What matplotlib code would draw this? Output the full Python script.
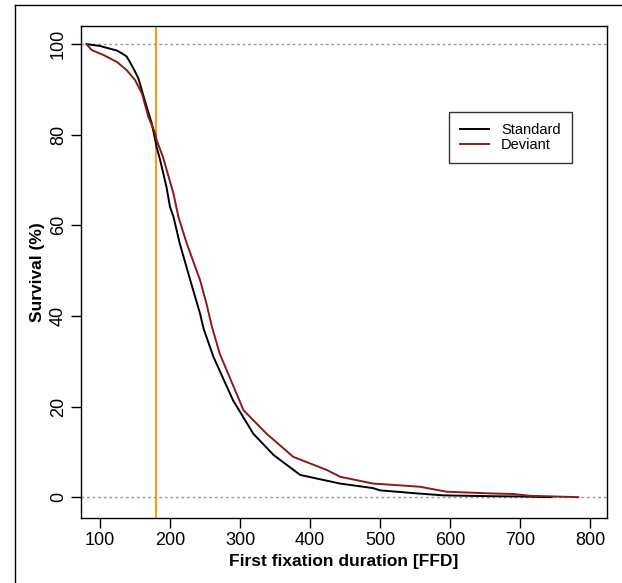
import matplotlib.pyplot as plt
from matplotlib.lines import Line2D

# Curvas de sobrevivência (duração em ms, sobrevivência em %)
std_x = [81, 100, 114, 124, 131, 138, 143, 150, 155, 164, 174, 181, 186, 195, 200, 205, 214, 229,
         243, 248, 262, 290, 319, 348, 386, 443, 490, 500, 524, 547, 590, 662, 700, 745]
std_y = [100, 99.6, 99.0, 98.6, 98.0, 97.3, 96.0, 94.0, 92.4, 87.6, 82.5, 77.3, 74.4, 68.5, 64.1, 61.9, 56.0, 47.9,
         40.5, 37.2, 31.0, 21.4, 14.0, 9.3, 4.9, 3.0, 2.0, 1.5, 1.2, 0.9, 0.4, 0.2, 0.15, 0.0]

dev_x = [81, 88, 105, 124, 138, 150, 160, 169, 179, 181, 190, 205, 212, 224, 243,
         252, 260, 271, 305, 338, 376, 424, 443, 490, 529, 557, 595, 662, 690, 714, 783]
dev_y = [100, 98.7, 97.6, 96.1, 94.3, 92.1, 89.1, 84.0, 80.3, 78.8, 75.1, 67.0, 61.9, 56.0, 47.9,
         42.8, 37.6, 31.7, 19.2, 14.0, 8.9, 6.0, 4.5, 3.0, 2.6, 2.3, 1.2, 0.8, 0.7, 0.3, 0.0]

x_ticks = [100, 200, 300, 400, 500, 600, 700, 800]
y_ticks = [0, 20, 40, 60, 80, 100]
cutoff = 180

plt.rcParams['font.family'] = ['Liberation Sans', 'DejaVu Sans']

fig = plt.figure(figsize=(6.22, 5.83), dpi=100)
ax = fig.add_axes([81 / 622, 1 - 518 / 583, 526 / 622, 492 / 583])

ax.axhline(0, color='#999999', lw=1, ls=(0, (2, 2)))
ax.axhline(100, color='#999999', lw=1, ls=(0, (2, 2)))
ax.axvline(cutoff, color='#FF8C00', lw=1.3)

ax.plot(std_x, std_y, color='black', lw=1.4)
ax.plot(dev_x, dev_y, color='#8B1A1A', lw=1.4)

ax.set_xlim(73, 824)
ax.set_ylim(-4.6, 104)
ax.set_xticks(x_ticks)
ax.set_yticks(y_ticks)
ax.tick_params(direction='out', length=7, width=1, labelsize=13, pad=3)
for lbl in ax.get_yticklabels():
    lbl.set_rotation(90)
    lbl.set_va('center')
for s in ax.spines.values():
    s.set_linewidth(1)

ax.set_xlabel('First fixation duration [FFD]', fontsize=12.5, fontweight='bold', labelpad=4)
ax.set_ylabel('Survival (%)', fontsize=12.5, fontweight='bold', labelpad=4)

handles = [Line2D([], [], color='black', lw=1.4), Line2D([], [], color='#8B1A1A', lw=1.4)]
leg = ax.legend(handles, ['Standard', 'Deviant'], loc='upper left',
                bbox_to_anchor=(0.70, 0.825), borderaxespad=0, fontsize=10.5,
                frameon=True, fancybox=False, edgecolor='black', handlelength=2.0,
                handletextpad=0.8, borderpad=0.75, labelspacing=0.1)
leg.get_frame().set_linewidth(1)

# moldura externa (só esquerda e topo visíveis)
fig.add_artist(Line2D([15 / 622, 15 / 622], [0, 1 - 5 / 583], color='black', lw=1))
fig.add_artist(Line2D([15 / 622, 1], [1 - 5 / 583, 1 - 5 / 583], color='black', lw=1))

fig.savefig('out.png', dpi=100)
